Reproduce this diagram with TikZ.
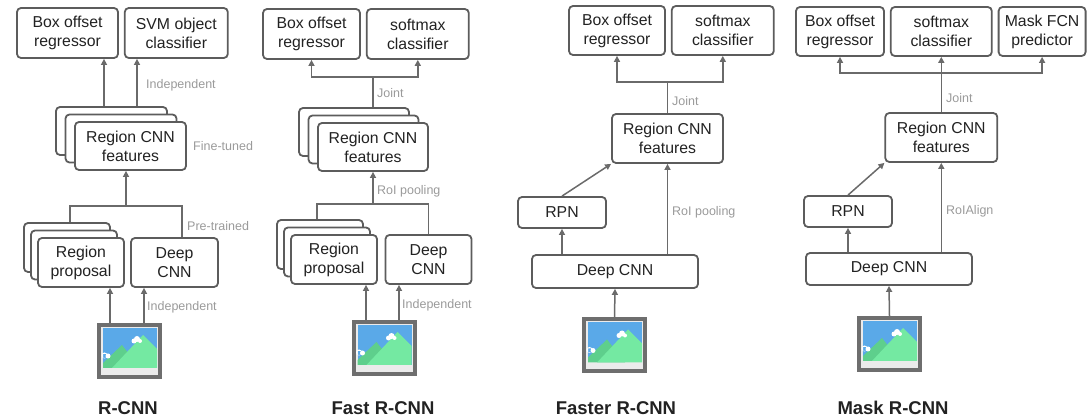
\documentclass[tikz,border=0pt]{standalone}
\usepackage{fontspec}
\setmainfont{Liberation Sans}
\usepackage{tikz}
\usetikzlibrary{arrows.meta,calc,positioning,shadows}
\definecolor{boxline}{HTML}{5C5C5C}
\definecolor{wireline}{HTML}{6A6A6A}
\definecolor{notegray}{HTML}{9A9A9A}
\definecolor{ink}{HTML}{222222}
\definecolor{sky}{HTML}{5AA9E8}
\definecolor{hillA}{HTML}{5ECF8C}
\definecolor{hillB}{HTML}{74E9A2}
\definecolor{framegray}{HTML}{6E6E6E}
\definecolor{photobg}{HTML}{EBEBEB}
\tikzset{
	rcnn diagram/.style={
		x=1pt, y=-1pt,
		wire/.style={draw=wireline, line width=1.5pt},
		ar/.style={wire, -{Triangle[length=6pt,width=6pt]}},
		note/.style={text=notegray, font=\fontsize{12.5}{14}\selectfont, inner sep=0pt, anchor=west},
		title/.style={text=ink, font=\bfseries\fontsize{18.5}{22}\selectfont, inner sep=0pt},
		node distance=5pt
		},
	card/.style={fill=white, draw=boxline, line width=1.8pt},
	bb/.style 2 args={card, rounded corners=4pt,
		minimum width=#1, minimum height=#2, inner sep=0pt, align=center,
		text=ink, font=\fontsize{15.8}{19}\selectfont},
	cnn stack/.style={
		general shadow={shadow xshift=-19pt, shadow yshift=15pt, card},
		general shadow={shadow xshift=-9.5pt, shadow yshift=7.5pt, card}},
	proposal stack/.style={
		general shadow={shadow xshift=-14pt, shadow yshift=15pt, card},
		general shadow={shadow xshift=-7pt, shadow yshift=7.5pt, card}},
	% the frame is stroked last, over the scene
	photo/.style={draw=framegray, line width=4pt,
		minimum width=61pt, minimum height=52pt, inner sep=0pt,
		prefix after command={\pgfextra{\let\fixname\tikzlastnode}},
		append after command={\pgfextra{
			\fill[photobg] (\fixname.north west) rectangle (\fixname.south east);
			\begin{scope}[shift={(\fixname.north west)}, x=1pt, y=-1pt, shift={(6,5)}]
				\fill[sky] (0,0) rectangle (54,40);
				\fill[hillA] (0,40) -- (0,35) -- (19,17) -- (37,40) -- cycle;
				\fill[hillB] (9,40) -- (40,7) -- (54,21) -- (54,40) -- cycle;
				\fill[white] (31,13) circle[radius=2.5] (34,11) circle[radius=3] (37,13) circle[radius=2];
				\fill[white] (0,26) rectangle (3,30) (1.5,27.5) circle[radius=3] (5,28) circle[radius=2.5];
			\end{scope}}}}
}

\begin{document}
\begin{tikzpicture}[rcnn diagram]
	\useasboundingbox (0,0) rectangle (1090,419);
	% R-CNN
	\node[bb={101pt}{50pt}] (rcnn_reg) at (67.5,33) {Box offset\\regressor};
	\node[bb={103pt}{50pt}, right=of rcnn_reg] (rcnn_cls) {SVM object\\classifier};
	\node[bb={111pt}{48pt}, cnn stack] (rcnn_feat) at (130.5,146) {Region CNN\\features};
	\node[bb={86pt}{49pt}, proposal stack] (rcnn_prop) at (81,262.5) {Region\\proposal};
	\node[bb={87pt}{49pt}] (rcnn_cnn) at (174.5,262.5) {Deep\\CNN};
	\node[photo] (rcnn_img) at (129.5,351) {};
	\coordinate (rcnn_bus) at (126,206);
	\draw[ar] ([xshift=-26.5pt,yshift=15pt]rcnn_feat.north) -- ([xshift=-26.5pt]rcnn_feat.north |- rcnn_reg.south);
	\draw[ar] ([xshift=6.5pt,yshift=15pt]rcnn_feat.north) -- ([xshift=6.5pt]rcnn_feat.north |- rcnn_cls.south);
	\draw[wire] ([xshift=-11pt,yshift=15pt]rcnn_prop.north) |- (rcnn_bus) -| ([xshift=7.5pt]rcnn_cnn.north);
	\draw[ar] (rcnn_bus) -- (rcnn_bus |- rcnn_feat.south);
	\draw[ar] ([xshift=-19.5pt]rcnn_img.north) -- ([xshift=-19.5pt]rcnn_img.north |- rcnn_prop.south);
	\draw[ar] ([xshift=14.5pt]rcnn_img.north) -- ([xshift=14.5pt]rcnn_img.north |- rcnn_cnn.south);
	\node[note] at (146,85) {Independent};
	\node[note] at (193,146) {Fine-tuned};
	\node[note] at (187,226) {Pre-trained};
	\node[note] at (147,307) {Independent};
	\node[title] (rcnn_name) at (128,408) {R-CNN};
	% Fast R-CNN
	\node[bb={97pt}{50pt}] (fast_reg) at (311.5,34) {Box offset\\regressor};
	\node[bb={102pt}{50pt}, right=of fast_reg] (fast_cls) {softmax\\classifier};
	\node[bb={110pt}{48pt}, cnn stack] (fast_feat) at (373,147) {Region CNN\\features};
	\node[bb={86pt}{49pt}, proposal stack] (fast_prop) at (334,259.5) {Region\\proposal};
	\node[bb={86pt}{49pt}] (fast_cnn) at (428.5,259.5) {Deep\\CNN};
	\node[photo] (fast_img) at (384,348) {};
	\coordinate (fast_joint) at (373,77);
	\coordinate (fast_pool) at (373,204);
	\draw[wire] ([yshift=15pt]fast_feat.north) -- (fast_joint);
	\draw[ar] (fast_joint) -| (fast_reg.south);
	\draw[ar] (fast_joint) -| (fast_cls.south);
	\draw[wire] ([xshift=-17pt,yshift=15pt]fast_prop.north) |- (fast_pool) -| (fast_cnn.north);
	\draw[ar] (fast_pool) -- (fast_feat.south);
	\draw[ar] ([xshift=-18pt]fast_img.north) -- ([xshift=-18pt]fast_img.north |- fast_prop.south);
	\draw[ar] ([xshift=15pt]fast_img.north) -- ([xshift=15pt]fast_img.north |- fast_cnn.south);
	\node[note] at (377,93) {Joint};
	\node[note] at (377,191) {RoI pooling};
	\node[note] at (402,305) {Independent};
	\node[title] (fast_name) at (383,408) {Fast R-CNN};
	% Faster R-CNN
	\node[bb={96pt}{49pt}] (faster_reg) at (617,30.5) {Box offset\\regressor};
	\node[bb={102pt}{49pt}, right=of faster_reg] (faster_cls) {softmax\\classifier};
	\node[bb={111pt}{49pt}] (faster_feat) at (667.5,138.5) {Region CNN\\features};
	\node[bb={88pt}{31pt}] (faster_rpn) at (562,212.5) {RPN};
	\node[bb={166pt}{33pt}] (faster_cnn) at (615,271.5) {Deep CNN};
	\node[photo] (faster_img) at (614.5,345.5) {};
	\coordinate (faster_joint) at (667.5,82);
	\draw[wire] (faster_feat.north) -- (faster_joint);
	\draw[ar] (faster_joint) -| (faster_reg.south);
	\draw[ar] (faster_joint) -| (faster_cls.south);
	\draw[ar] (faster_rpn.north) -- (faster_feat.south west);
	\draw[ar] (faster_cnn.north -| faster_rpn) -- (faster_rpn.south);
	\draw[ar] (faster_cnn.north -| faster_feat) -- (faster_feat.south);
	\draw[ar] (faster_img.north) -- (faster_cnn.south);
	\node[note] at (672,101) {Joint};
	\node[note] at (672,212) {RoI pooling};
	\node[title] (faster_name) at (616,408) {Faster R-CNN};
	% Mask R-CNN
	\node[bb={88pt}{49pt}] (mask_reg) at (840,31.5) {Box offset\\regressor};
	\node[bb={101pt}{49pt}, right=of mask_reg] (mask_cls) {softmax\\classifier};
	\node[bb={87pt}{49pt}, right=of mask_cls] (mask_fcn) {Mask FCN\\predictor};
	\node[bb={112pt}{49pt}] (mask_feat) at (mask_cls |- 0,137.5) {Region CNN\\features};
	\node[bb={88pt}{31pt}] (mask_rpn) at (848,211.5) {RPN};
	\node[bb={166pt}{32pt}] (mask_cnn) at (889,269) {Deep CNN};
	\node[photo] (mask_img) at (889.5,344) {};
	\coordinate (mask_joint) at (mask_cls |- 0,73);
	\draw[ar] (mask_feat.north) -- (mask_cls.south);
	\draw[ar] (mask_joint) -| (mask_reg.south);
	\draw[ar] (mask_joint) -| (mask_fcn.south);
	\draw[ar] (mask_rpn.north) -- (mask_feat.south west);
	\draw[ar] (mask_cnn.north -| mask_rpn) -- (mask_rpn.south);
	\draw[ar] (mask_cnn.north -| mask_feat) -- (mask_feat.south);
	\draw[ar] (mask_img.north) -- (mask_cnn.south);
	\node[note] at (946,98) {Joint};
	\node[note] at (946,211) {RoIAlign};
	\node[title] (mask_name) at (893,408) {Mask R-CNN};
\end{tikzpicture}
\end{document}
